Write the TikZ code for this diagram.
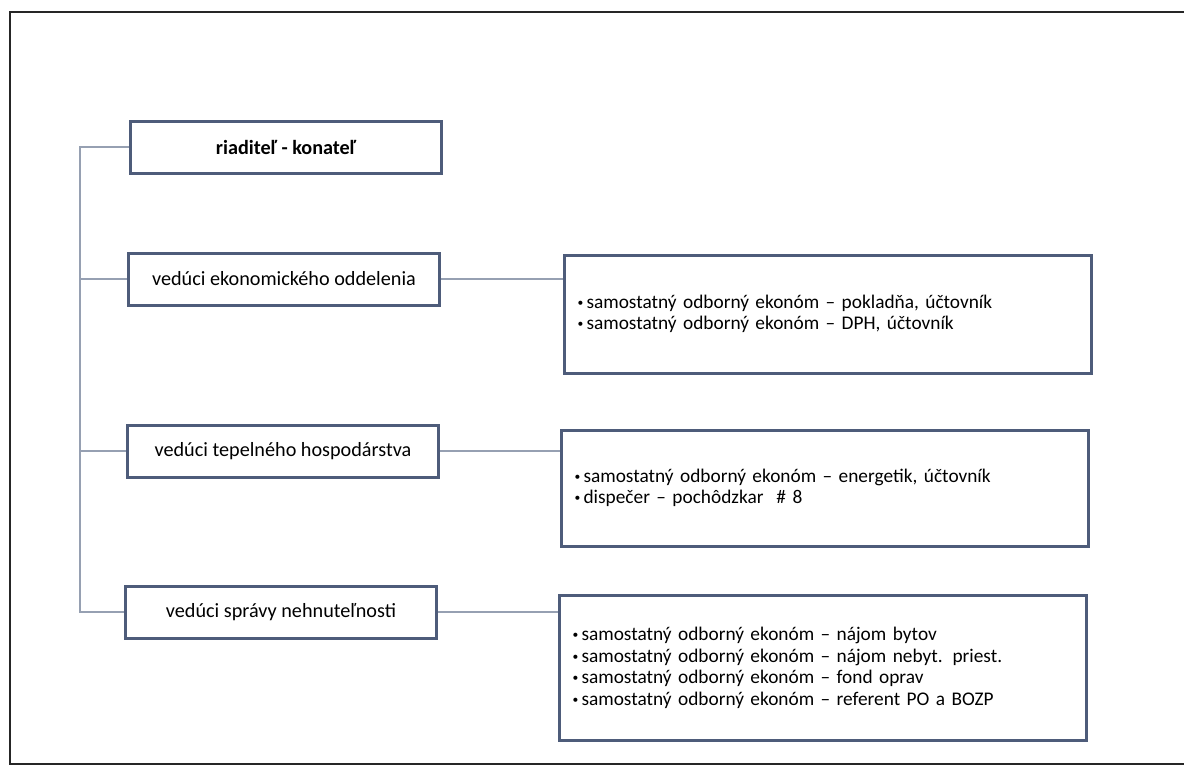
\documentclass[tikz,border=0pt]{standalone}
\usepackage{fontspec}
\setmainfont{Carlito}
\usepackage{tikz}
\usetikzlibrary{positioning}
\usepackage{xcolor}
\usepackage{graphicx}
\definecolor{boxline}{RGB}{78,92,122}
\definecolor{linkline}{RGB}{150,160,178}
\newcommand{\lbul}{\raisebox{0.25ex}{\scalebox{0.6}{\textbullet}}\,}

\begin{document}
\begin{tikzpicture}[x=0.02cm, y=-0.02cm,
    headbox/.style={draw=boxline, line width=0.06cm, minimum width=6.24cm, minimum height=1.04cm, inner sep=0pt, font=\fontsize{11.5}{13}\selectfont},
    listbox/.style={draw=boxline, line width=0.06cm, minimum width=10.54cm, text width=10.02cm, align=left, inner xsep=0.26cm, inner ysep=0pt, font=\fontsize{11}{12.3}\selectfont},
    link/.style={linkline, line width=0.6pt}]
    \useasboundingbox (0, 0) rectangle (1184, 769);

    % outer frame
    \draw [black!85, line width=0.04cm] (1184, 12) -- (10, 12) -- (10, 764) -- (1184, 764);

    \coordinate (T) at (80, 0);

    \node [headbox, font=\fontsize{11.5}{13}\selectfont\bfseries] (B1) at (286, 147) {riaditeľ - konateľ};
    \node [headbox] (B2) at (284, 279) {vedúci ekonomického oddelenia};
    \node [headbox] (B3) at (283, 451) {vedúci tepelného hospodárstva};
    \node [headbox] (B4) at (281, 612) {vedúci správy nehnuteľnosti};

    \node [listbox, minimum height=2.36cm] (R1) at (828, 314)
    {
    \lbul samostatný odborný ekonóm – pokladňa, účtovník\\
    \lbul samostatný odborný ekonóm – DPH, účtovník
    };
    \node [listbox, minimum height=2.32cm] (R2) at (825, 488)
    {
    \lbul samostatný odborný ekonóm – energetik, účtovník\\
    \lbul dispečer – pochôdzkar \ \# 8
    };
    \node [listbox, minimum height=2.9cm] (R3) at (823, 668)
    {
    \lbul samostatný odborný ekonóm – nájom bytov\\
    \lbul samostatný odborný ekonóm – nájom nebyt. priest.\\
    \lbul samostatný odborný ekonóm – fond oprav\\
    \lbul samostatný odborný ekonóm – referent PO a BOZP
    };

    \draw [link] (B1.west) -- (B1.west -| T) |- (B4.west);
    \draw [link] (B2.west) -- (B2.west -| T);
    \draw [link] (B3.west) -- (B3.west -| T);

    \draw [link] (B2.east) -- (B2.east -| R1.west);
    \draw [link] (B3.east) -- (B3.east -| R2.west);
    \draw [link] (B4.east) -- (B4.east -| R3.west);
\end{tikzpicture}
\end{document}
